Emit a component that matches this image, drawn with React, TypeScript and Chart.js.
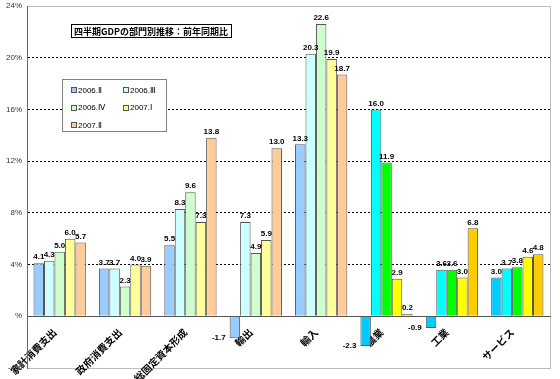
import { useEffect, useRef } from 'react';
import { Chart, registerables } from 'chart.js';
Chart.register(...registerables);

const categories = ['家計消費支出', '政府消費支出', '総固定資本形成', '輸出', '輸入', '農業', '工業', 'サービス'];
const seriesNames = ['2006.Ⅱ', '2006.Ⅲ', '2006.Ⅳ', '2007.Ⅰ', '2007.Ⅱ'];
const s2006Q2 = [4.1, 3.7, 5.5, -1.7, 13.3, -2.3, -0.9, 3.0];
const s2006Q3 = [4.3, 3.7, 8.3, 7.3, 20.3, 16.0, 3.6, 3.7];
const s2006Q4 = [5.0, 2.3, 9.6, 4.9, 22.6, 11.9, 3.6, 3.8];
const s2007Q1 = [6.0, 4.0, 7.3, 5.9, 19.9, 2.9, 3.0, 4.6];
const s2007Q2 = [5.7, 3.9, 13.8, 13.0, 18.7, 0.2, 6.8, 4.8];
const seriesValues = [s2006Q2, s2006Q3, s2006Q4, s2007Q1, s2007Q2];
const yMin = -4;
const yMax = 24;
const yStep = 4;
const chartTitle = '四半期GDPの部門別推移：前年同期比';
const pastelColors = ['#99CCFF', '#CCFFFF', '#CCFFCC', '#FFFF99', '#FFCC99'];
const brightColors = ['#00CCFF', '#00FFFF', '#00FF00', '#FFFF00', '#FFCC00'];
const brightFromIndex = 5;

const decorPlugin = {
  id: 'decor',
  beforeDraw(chart: any) {
    const { ctx, chartArea: a } = chart;
    ctx.save();
    ctx.fillStyle = '#fff';
    ctx.fillRect(0, 0, chart.width, chart.height);
    ctx.strokeStyle = '#BDBDBD';
    ctx.lineWidth = 1;
    ctx.strokeRect(Math.round(a.left) + 0.5, Math.round(a.top) + 0.5, Math.round(a.right - a.left), Math.round(a.bottom - a.top));
    ctx.restore();
  },
  afterDatasetsDraw(chart: any) {
    const { ctx } = chart;
    ctx.save();
    ctx.font = 'bold 8px "Liberation Sans", Arial, sans-serif';
    ctx.fillStyle = '#000';
    chart.data.datasets.forEach((ds: any, di: number) => {
      const meta = chart.getDatasetMeta(di);
      meta.data.forEach((bar: any, i: number) => {
        const v = ds.data[i];
        const txt = v.toFixed(1);
        if (v >= 0) {
          ctx.textAlign = 'center';
          ctx.textBaseline = 'bottom';
          ctx.fillText(txt, bar.x, bar.y - 2);
        } else {
          ctx.textAlign = 'right';
          ctx.textBaseline = 'middle';
          ctx.fillText(txt, bar.x - bar.width / 2 - 4, bar.y);
        }
      });
    });
    ctx.restore();
  },
  afterDraw(chart: any) {
    const { ctx, chartArea: a } = chart;
    ctx.save();
    // title box
    ctx.font = 'bold 9px "Noto Sans CJK JP", sans-serif';
    const tw = ctx.measureText(chartTitle).width;
    const tx = a.left + 44;
    const ty = a.top + 18;
    ctx.fillStyle = '#fff';
    ctx.fillRect(tx, ty, tw + 6, 14);
    ctx.strokeStyle = '#000';
    ctx.lineWidth = 1;
    ctx.strokeRect(Math.round(tx) + 0.5, Math.round(ty) + 0.5, Math.round(tw + 6), 13);
    ctx.fillStyle = '#000';
    ctx.textAlign = 'left';
    ctx.textBaseline = 'middle';
    ctx.fillText(chartTitle, tx + 3, ty + 7.5);
    // legend box
    const lx = a.left + 35;
    const ly = a.top + 73;
    ctx.fillStyle = '#fff';
    ctx.fillRect(lx, ly, 104, 52);
    ctx.strokeStyle = '#808080';
    ctx.strokeRect(Math.round(lx) + 0.5, Math.round(ly) + 0.5, 104, 52);
    ctx.font = '8px "Liberation Sans", Arial, sans-serif';
    seriesNames.forEach((name, i) => {
      const col = i % 2;
      const row = Math.floor(i / 2);
      const sx = lx + 9 + col * 52;
      const sy = ly + 11 + row * 17.5;
      ctx.fillStyle = pastelColors[i];
      ctx.fillRect(sx, sy - 3, 6, 6);
      ctx.strokeStyle = '#555';
      ctx.strokeRect(Math.round(sx) + 0.5, Math.round(sy - 3) + 0.5, 5, 5);
      ctx.fillStyle = '#000';
      ctx.textAlign = 'left';
      ctx.textBaseline = 'middle';
      ctx.fillText(name, sx + 7, sy + 0.5);
    });
    ctx.restore();
  },
};

export default function App() {
  const ref = useRef<HTMLCanvasElement>(null);
  useEffect(() => {
    if (!ref.current) return;
    const chart = new Chart(ref.current, {
      type: 'bar',
      data: {
        labels: categories,
        datasets: seriesValues.map((vals, si) => ({
          label: seriesNames[si],
          data: vals,
          backgroundColor: vals.map((_, ci) => (ci >= brightFromIndex ? brightColors[si] : pastelColors[si])),
          borderColor: '#555',
          borderWidth: 1,
          categoryPercentage: 0.8,
          barPercentage: 1.0,
        })),
      },
      options: {
        responsive: false,
        animation: false,
        layout: { padding: { top: 6, right: 10, bottom: 11, left: 0 } },
        plugins: { legend: { display: false }, tooltip: { enabled: false }, title: { display: false } },
        scales: {
          x: {
            position: { y: 0 } as any,
            z: 1,
            grid: { display: false },
            border: { display: true, color: '#555', width: 1 },
            ticks: {
              minRotation: 45,
              maxRotation: 45,
              padding: 2,
              labelOffset: -5,
              color: '#000',
              font: { family: '"Noto Sans CJK JP", sans-serif', size: 10, weight: 'bold' },
            },
            afterFit: (s: any) => { s.paddingLeft = 0; s.paddingRight = 0; s.paddingTop = 0; s.paddingBottom = 0; },
          },
          y: {
            min: yMin,
            max: yMax,
            afterFit: (s: any) => { s.width = 27; s.paddingTop = 0; s.paddingBottom = 0; },
            ticks: {
              stepSize: yStep,
              padding: 5,
              color: '#333',
              font: { family: '"Liberation Sans", Arial, sans-serif', size: 8 },
              callback: (v: any) => (v === 0 ? '%' : `${v}%`),
            },
            grid: {
              drawTicks: false,
              color: (c: any) => (c.tick && (c.tick.value === yMax || c.tick.value === yMin) ? 'rgba(0,0,0,0)' : '#000'),
              lineWidth: 1,
            },
            border: { display: true, color: '#666', width: 1, dash: [2, 2] },
          },
        },
      },
      plugins: [decorPlugin],
    });
    return () => chart.destroy();
  }, []);
  return (
    <div style={{ position: 'absolute', left: 0, top: 0, width: 560, height: 379 }}>
      <canvas ref={ref} width={560} height={379} style={{ width: 560, height: 379 }} />
    </div>
  );
}
